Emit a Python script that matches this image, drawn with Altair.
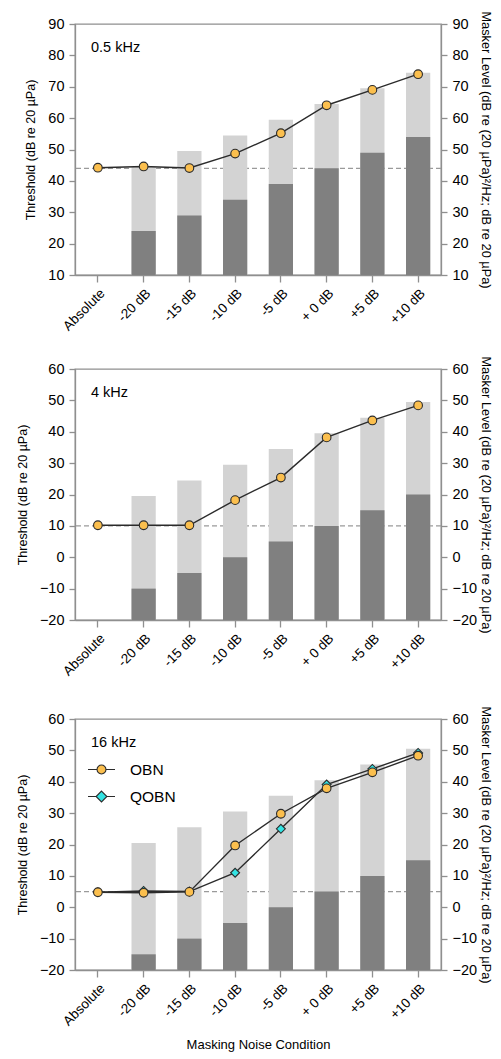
import altair as alt
import pandas as pd

conditions = ["Absolute", "-20 dB", "-15 dB", "-10 dB", "-5 dB", "+ 0 dB", "+5 dB", "+10 dB"]
masked = conditions[1:]

# 0.5 kHz
p1_light = [44.5, 49.5, 54.5, 59.5, 64.5, 69.5, 74.5]
p1_dark = [24, 29, 34, 39, 44, 49, 54]
p1_obn = [44.2, 44.6, 44.1, 48.7, 55.2, 64.1, 69.0, 74.0]
p1_base = 44

# 4 kHz
p2_light = [19.5, 24.5, 29.5, 34.5, 39.5, 44.5, 49.5]
p2_dark = [-10, -5, 0, 5, 10, 15, 20]
p2_obn = [10.2, 10.2, 10.2, 18.2, 25.4, 38.2, 43.6, 48.4]
p2_base = 10

# 16 kHz
p3_light = [20.5, 25.5, 30.5, 35.5, 40.5, 45.5, 50.5]
p3_dark = [-15, -10, -5, 0, 5, 10, 15]
p3_obn = [4.8, 4.6, 4.9, 19.7, 29.8, 37.9, 43.0, 48.3]
p3_qobn = [4.8, 5.2, 5.0, 11.0, 25.0, 39.1, 44.1, 49.2]
p3_base = 5

series_names = ["OBN", "QOBN"]
series_colors = ["#fbbf4e", "#33e3e3"]

LIGHT = "#d3d3d3"
DARK = "#808080"
FRAME = "#8f8f8f"
LINE = "#2b2b2b"
FONT = "Liberation Sans"

W, H = 366, 251
left_title = "Threshold (dB re 20 µPa)"
right_title = "Masker Level (dB re (20 µPa)²/Hz; dB re 20 µPa)"

legend_paths = [
    "M-1,0L-0.33,0M0.33,0L1,0M0.33,0A0.33,0.33 0 1,1 -0.33,0A0.33,0.33 0 1,1 0.33,0Z",
    "M-1,0L-0.4,0M0.4,0L1,0M0,-0.4L0.4,0L0,0.4L-0.4,0Z",
]


def panel(light, dark, series, base, label, domain, show_xtitle, rtitle_pad, legend=False):
    ticks = list(range(domain[0], domain[1] + 1, 10))
    bars = pd.DataFrame({"cond": masked, "light": light, "dark": dark, "lo": [domain[0]] * len(masked)})
    xenc = alt.X(
        "cond:N",
        sort=conditions,
        scale=alt.Scale(domain=conditions, paddingInner=0.47, paddingOuter=0.235),
        axis=alt.Axis(
            labelAngle=-45,
            labelFontSize=13.5,
            labelPadding=4,
            tickSize=7,
            title="Masking Noise Condition" if show_xtitle else None,
            titleFontSize=13,
            titleFontWeight="normal",
            titlePadding=11,
        ),
    )

    def ys(field, axis=None):
        return alt.Y(field, scale=alt.Scale(domain=domain, nice=False, zero=False),
                     axis=axis)

    left_axis = alt.Axis(values=ticks, title=left_title, orient="left", labelFontSize=14.5,
                         tickSize=6, labelPadding=5, titleFontSize=12.5,
                         titleFontWeight="normal", titlePadding=10, grid=False)
    right_axis = alt.Axis(values=ticks, title=right_title, orient="right", labelFontSize=14.5,
                          tickSize=6, labelPadding=5, titleFontSize=12.8,
                          titleFontWeight="normal", titlePadding=rtitle_pad, grid=False)

    rule = alt.Chart(pd.DataFrame({"b": [base]})).mark_rule(
        color="#9a9a9a", strokeDash=[5, 3], strokeWidth=1.2
    ).encode(y=ys("b:Q"))

    light_bar = alt.Chart(bars).mark_bar(color=LIGHT).encode(
        x=xenc, y=ys("light:Q", left_axis), y2="lo:Q")
    dark_bar = alt.Chart(bars).mark_bar(color=DARK).encode(
        x=xenc, y=ys("dark:Q", right_axis), y2="lo:Q")

    layers = [rule, light_bar, dark_bar]
    shapes = ["circle", "diamond"]
    sizes = [75, 80]
    for i in reversed(range(len(series))):
        df = pd.DataFrame({"cond": conditions, "v": series[i]})
        layers.append(alt.Chart(df).mark_line(color=LINE, strokeWidth=1.4).encode(
            x=xenc, y=ys("v:Q")))

    if legend:
        rows = []
        for i in range(len(series)):
            for c, v in zip(conditions, series[i]):
                rows.append({"cond": c, "v": v, "s": series_names[i]})
        ldf = pd.DataFrame(rows)
        leg = alt.Legend(orient="none", legendX=12, legendY=36, title=None,
                         labelFontSize=15.5, labelOffset=14, symbolSize=729,
                         symbolStrokeWidth=1.1, symbolOpacity=1,
                         rowPadding=4, padding=0, labelColor="black")
        layers.append(alt.Chart(ldf).mark_point(
            opacity=0, filled=False, strokeWidth=1.1).encode(
            x=xenc, y=ys("v:Q"),
            shape=alt.Shape("s:N", scale=alt.Scale(domain=series_names, range=legend_paths), legend=leg),
            fill=alt.Fill("s:N", scale=alt.Scale(domain=series_names, range=series_colors), legend=leg),
            stroke=alt.Stroke("s:N", scale=alt.Scale(domain=series_names, range=[LINE, LINE]), legend=leg),
        ))

    for i in reversed(range(len(series))):
        df = pd.DataFrame({"cond": conditions, "v": series[i]})
        layers.append(alt.Chart(df).mark_point(
            shape=shapes[i], filled=True, fill=series_colors[i], stroke=LINE,
            strokeWidth=1.1, opacity=1, size=sizes[i]).encode(x=xenc, y=ys("v:Q")))

    txt = alt.Chart(pd.DataFrame({"t": [label]})).mark_text(
        align="left", baseline="middle", fontSize=14.5, color="black"
    ).encode(text="t:N", x=alt.value(16), y=alt.value(24))
    layers.append(txt)

    return alt.layer(*layers).resolve_scale(y="independent").properties(width=W, height=H)


c1 = panel(p1_light, p1_dark, [p1_obn], p1_base, "0.5 kHz", (10, 90), False, 10)
c2 = panel(p2_light, p2_dark, [p2_obn], p2_base, "4 kHz", (-20, 60), False, 2)
c3 = panel(p3_light, p3_dark, [p3_obn, p3_qobn], p3_base, "16 kHz", (-20, 60), True, 2, legend=True)

top = alt.vconcat(c1, c2, spacing=21)
chart = alt.vconcat(top, c3, spacing=26).resolve_legend(
    shape="independent", fill="independent", stroke="independent"
).properties(
    padding={"left": 7, "top": 2, "right": 0, "bottom": 0}
).configure(font=FONT).configure_view(stroke=FRAME, strokeWidth=1.3).configure_axis(
    domainColor=FRAME, tickColor=FRAME, domainWidth=1.3, tickWidth=1.3,
    labelColor="black", titleColor="black", labelFont=FONT, titleFont=FONT
).configure_legend(labelFont=FONT)

chart.save("out.html", embed_options={"renderer": "svg", "actions": False})
